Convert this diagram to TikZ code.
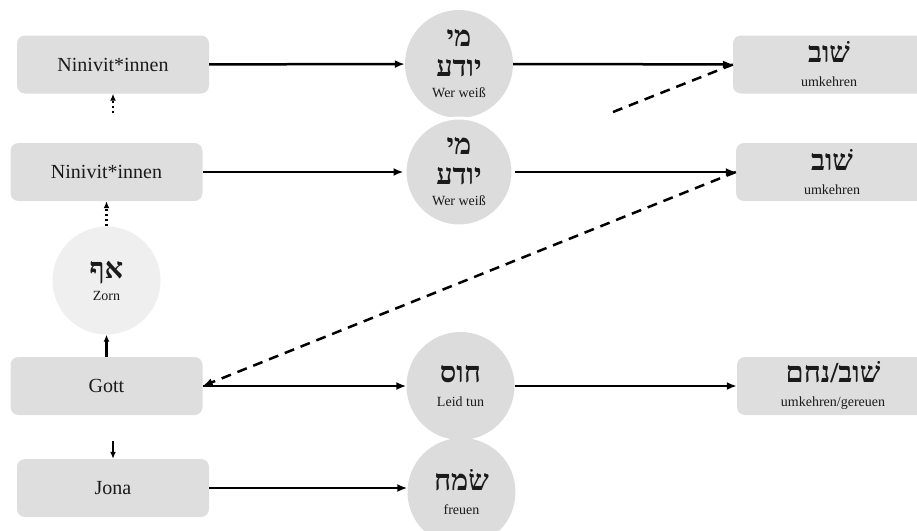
\documentclass[tikz,border=0pt]{standalone}
\usepackage{fontspec}
\setmainfont{Liberation Serif}
\newfontfamily\hebfont[Script=Hebrew]{Liberation Serif}
\TeXXeTstate=1
\usetikzlibrary{arrows.meta}

\definecolor{boxgray}{HTML}{DEDEDE}
\definecolor{circgray}{HTML}{DCDCDC}
\definecolor{zorngray}{HTML}{EFEFEF}
\definecolor{ink}{HTML}{1A1A1A}

% hebrew word and its gloss
\newcommand{\heb}[1]{{\hebfont\bfseries\fontsize{29}{30}\selectfont\beginR #1\endR}}
\newcommand{\gloss}[1]{{\fontsize{14}{16}\selectfont #1}}

\begin{document}
\begin{tikzpicture}[x=1pt,y=-1pt,
    box/.style={rectangle, rounded corners=8pt, fill=boxgray, minimum width=192pt,
      minimum height=58pt, align=center, text=ink, font=\fontsize{20}{29}\selectfont},
    wordcirc/.style={circle, fill=circgray, minimum size=108pt, inner sep=0pt,
      align=center, text=ink, font=\fontsize{14}{30}\selectfont},
    arr/.style={-{Latex[length=10pt,width=8pt]}, line width=2.5pt},
    dashline/.style={line width=2.5pt, dash pattern=on 10pt off 7pt},
    dotarr/.style={-{Latex[length=7pt,width=6pt]}, line width=2.5pt, dash pattern=on 2.5pt off 2.5pt},
    uparr/.style={-{Latex[length=7pt,width=6pt]}, line width=2.5pt}]
  \useasboundingbox (0,0) rectangle (917,530);

  % left column
  \node[box] (ninA) at (113,64.5) {Ninivit*innen};
  \node[box] (ninB) at (106.5,172) {Ninivit*innen};
  \node[wordcirc, fill=zorngray] (zorn) at (106.5,280.5) {\heb{אף}\\[-8pt]\gloss{Zorn}};
  \node[box] (gott) at (106.5,386) {Gott};
  \node[box] (jona) at (113,488) {Jona};

  % middle column
  \node[wordcirc] (mijodaA) at (459,64) {\heb{מי}\\\heb{יודע}\\[-9pt]\gloss{Wer weiß}};
  \node[wordcirc, draw=white, line width=3pt] (mijodaB) at (459,172) {\heb{מי}\\\heb{יודע}\\[-9pt]\gloss{Wer weiß}};
  \node[wordcirc] (chus) at (460.5,386) {\heb{חוס}\\[-6pt]\gloss{Leid tun}};
  \node[wordcirc] (simcha) at (461.5,492) {\heb{שׂמח}\\[-6pt]\gloss{freuen}};

  % right column
  \node[box] (shuvA) at (829,64.5) {\heb{שׁוב}\\[-5pt]\gloss{umkehren}};
  \node[box] (shuvB) at (832,172) {\heb{שׁוב}\\[-5pt]\gloss{umkehren}};
  \node[box] (shuvnicham) at (833,386) {\heb{שׁוב/נחם}\\[-5pt]\gloss{umkehren/gereuen}};

  % rows
  \draw[arr] (ninA) -- (mijodaA);
  \draw[arr] (mijodaA) -- (shuvA);
  \draw[arr] (ninB) -- (mijodaB);
  \draw[arr] (mijodaB) -- (shuvB);
  \draw[arr] (gott) -- (chus);
  \draw[arr] (chus) -- (shuvnicham);
  \draw[arr] (jona.east) -- (jona.east -| simcha.west);

  % back to god, dashed
  \coordinate (dashstart) at (613,112);
  \draw[dashline] (dashstart) -- (shuvA.west);
  \draw[dashline, -{Latex[length=10pt,width=8pt]}] (shuvB.west) -- (gott.east);

  % vertical links
  \coordinate (dotstart) at (113,113);
  \draw[dotarr] (dotstart) -- (ninA.south);
  \draw[dotarr] (zorn.north) -- (ninB.south);
  \draw[uparr] (gott.north) -- (zorn.south);
  \coordinate (jonastart) at (113,441);
  \draw[uparr] (jonastart) -- (jona.north);
\end{tikzpicture}
\end{document}
